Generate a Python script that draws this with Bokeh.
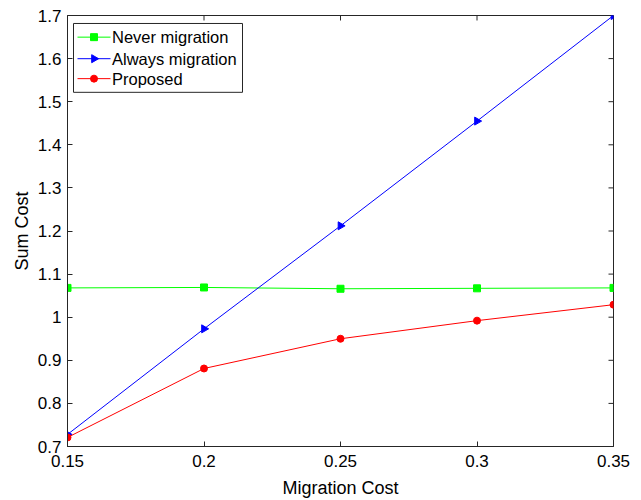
import numpy as np
from bokeh.plotting import figure
from bokeh.models import Range1d, FixedTicker
from bokeh.core.properties import value
from bokeh.embed import file_html
from bokeh.resources import INLINE

migration_cost = [0.15, 0.2, 0.25, 0.3, 0.35]
never_migration = [1.068, 1.069, 1.066, 1.067, 1.068]
always_migration = [0.728, 0.973, 1.212, 1.455, 1.700]
proposed = [0.721, 0.881, 0.950, 0.992, 1.029]

series_names = ["Never migration", "Always migration", "Proposed"]
series_colors = ["#00ff00", "#0000ff", "#ff0000"]

x_ticks = [0.15, 0.2, 0.25, 0.3, 0.35]
x_tick_labels = ["0.15", "0.2", "0.25", "0.3", "0.35"]
y_ticks = [0.7, 0.8, 0.9, 1.0, 1.1, 1.2, 1.3, 1.4, 1.5, 1.6, 1.7]
y_tick_labels = ["0.7", "0.8", "0.9", "1", "1.1", "1.2", "1.3", "1.4", "1.5", "1.6", "1.7"]

FONT = "Liberation Sans"
AX = "#262626"

W, H = 633, 500
BL, BT, BR, BB = 67, 15, 20, 53
FW, FH = W - BL - BR, H - BT - BB
TICK = 5

p = figure(width=W, height=H, output_backend="svg", toolbar_location=None,
           x_range=Range1d(0.15, 0.35), y_range=Range1d(0.7, 1.7),
           min_border_left=BL, min_border_top=BT, min_border_right=BR, min_border_bottom=BB)
p.extra_x_ranges = {"px": Range1d(0, FW)}
p.extra_y_ranges = {"px": Range1d(FH, 0)}
p.xgrid.visible = False
p.ygrid.visible = False
p.outline_line_color = AX
p.outline_line_width = 1
p.background_fill_color = "white"
p.border_fill_color = "white"

def style_axis(ax, ticks, labels):
    ax.ticker = FixedTicker(ticks=ticks)
    ax.major_label_overrides = {t: l for t, l in zip(ticks, labels)}
    ax.major_tick_in = TICK
    ax.major_tick_out = 0
    ax.minor_tick_line_color = None
    ax.axis_line_color = AX
    ax.major_tick_line_color = AX
    ax.major_label_text_font = FONT
    ax.major_label_text_font_size = "17px"
    ax.major_label_text_color = "black"
    ax.axis_label_text_font = FONT
    ax.axis_label_text_font_size = "18px"
    ax.axis_label_text_font_style = "normal"
    ax.axis_label_text_color = "black"

style_axis(p.xaxis[0], x_ticks, x_tick_labels)
style_axis(p.yaxis[0], y_ticks, y_tick_labels)
p.xaxis[0].axis_label = "Migration Cost"
p.yaxis[0].axis_label = "Sum Cost"
p.xaxis[0].major_label_standoff = 8
p.yaxis[0].major_label_standoff = 6
p.xaxis[0].axis_label_standoff = 8
p.yaxis[0].axis_label_standoff = 3

# mirrored inward ticks on the top and right edges of the box
p.segment(x0=x_ticks, x1=x_ticks, y0=[0] * len(x_ticks), y1=[TICK] * len(x_ticks),
          y_range_name="px", line_color=AX, line_width=1)
p.segment(x0=[FW - TICK] * len(y_ticks), x1=[FW] * len(y_ticks), y0=y_ticks, y1=y_ticks,
          x_range_name="px", line_color=AX, line_width=1)

p.line(migration_cost, never_migration, line_color=series_colors[0], line_width=1)
p.scatter(migration_cost, never_migration, marker="square", size=7,
          fill_color=series_colors[0], line_color=series_colors[0])
p.line(migration_cost, always_migration, line_color=series_colors[1], line_width=1)
p.scatter(migration_cost, always_migration, marker="triangle", size=8, angle=-np.pi / 2,
          fill_color=series_colors[1], line_color=series_colors[1])
p.line(migration_cost, proposed, line_color=series_colors[2], line_width=1)
p.scatter(migration_cost, proposed, marker="circle", size=7,
          fill_color=series_colors[2], line_color=series_colors[2])

# legend drawn by hand (frame pixel coordinates, from the top-left corner)
LX0, LX1, LY0, LY1 = 6, 175, 8, 77
ROW_Y = [21.7, 43.3, 63.3]
G0, G1, TX = 10, 43, 44.5
p.quad(left=[LX0], right=[LX1], top=[LY0], bottom=[LY1], x_range_name="px", y_range_name="px",
       fill_color="white", line_color=AX, line_width=1)
markers = ["square", "triangle", "circle"]
sizes = [7, 8, 7]
angles = [0, -np.pi / 2, 0]
for i in range(3):
    p.line([G0, G1], [ROW_Y[i], ROW_Y[i]], x_range_name="px", y_range_name="px",
           line_color=series_colors[i], line_width=1)
    p.scatter([(G0 + G1) / 2], [ROW_Y[i]], x_range_name="px", y_range_name="px",
              marker=markers[i], size=sizes[i], angle=angles[i],
              fill_color=series_colors[i], line_color=series_colors[i])
p.text([TX] * 3, ROW_Y, text=series_names, x_range_name="px", y_range_name="px",
       text_font=value(FONT), text_font_size=value("16.5px"), text_color="black",
       text_baseline="middle", text_align="left")

open("out.html", "w").write(file_html(p, INLINE))
